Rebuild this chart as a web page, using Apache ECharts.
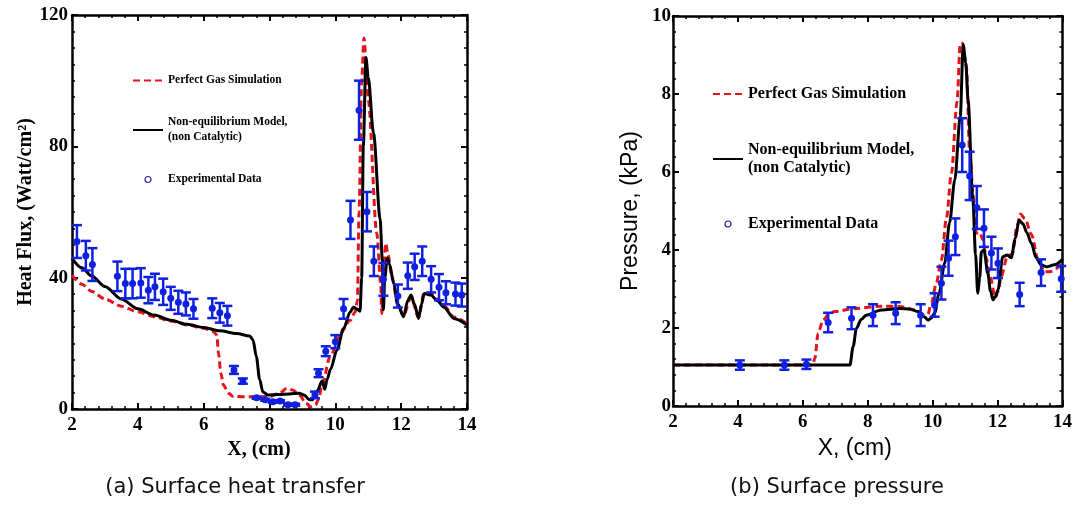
<!DOCTYPE html>
<html>
<head>
<meta charset="utf-8">
<script src="https://cdn.jsdelivr.net/npm/echarts@6/dist/echarts.min.js"></script>
<style>
  html, body { margin: 0; padding: 0; background: #ffffff; }
  #chart { width: 1075px; height: 506px; }
</style>
</head>
<body>
<div id="chart"></div>
<script>
// ---- Surface heat transfer, X (cm) vs heat flux (Watt/cm^2) ----
const heatPerfectGas = [
  [2.0, 40.8], [2.3, 38.0], [2.6, 35.8], [3.0, 33.5], [3.5, 31.3], [4.0, 29.6],
  [4.5, 28.1], [5.0, 26.8], [5.5, 25.6], [6.0, 24.6], [6.3, 23.6], [6.4, 22.5],
  [6.45, 17.0], [6.52, 11.0], [6.6, 7.3], [6.75, 4.8], [6.9, 3.8], [7.5, 3.7],
  [8.0, 3.8], [8.3, 4.8], [8.53, 6.3], [8.7, 5.8], [8.93, 4.0], [9.1, 1.8],
  [9.25, 0.7], [9.4, 1.2], [9.49, 3.0], [9.6, 7.5], [9.84, 15.9], [10.15, 23.0],
  [10.45, 27.0], [10.6, 29.5], [10.67, 33.0], [10.72, 60.0], [10.8, 100.0],
  [10.87, 113.0], [10.95, 104.0], [11.0, 94.0], [11.26, 53.5], [11.38, 38.0],
  [11.41, 29.1], [11.47, 42.0], [11.53, 50.5], [11.6, 47.0], [11.72, 40.3],
  [11.9, 31.5], [12.07, 28.5], [12.3, 34.0], [12.53, 28.0], [12.7, 35.5],
  [12.9, 35.0], [13.1, 33.5], [13.3, 31.5], [13.6, 28.0], [14.0, 26.0]
];
const heatNonEquilibrium = [
  [2.0, 45.9], [2.3, 43.0], [2.6, 40.5], [3.0, 37.3], [3.5, 33.5], [4.0, 30.5],
  [4.5, 28.6], [5.0, 27.0], [5.5, 25.8], [6.0, 24.8], [6.5, 23.8], [7.0, 23.0],
  [7.4, 22.2], [7.5, 21.0], [7.6, 16.0], [7.7, 9.0], [7.8, 5.2], [7.95, 4.3],
  [8.3, 4.4], [8.6, 4.6], [8.9, 4.8], [9.05, 4.3], [9.2, 2.9], [9.3, 2.8],
  [9.45, 5.5], [9.6, 8.5], [9.68, 6.0], [9.75, 9.0], [9.85, 12.0], [10.05, 18.0],
  [10.25, 24.5], [10.45, 29.5], [10.55, 31.0], [10.65, 30.5], [10.75, 29.8],
  [10.8, 40.0], [10.85, 80.0], [10.93, 107.0], [11.0, 101.0], [11.16, 84.0],
  [11.36, 58.0], [11.43, 45.0], [11.46, 30.2], [11.5, 40.0], [11.58, 46.0],
  [11.65, 44.0], [11.77, 38.3], [11.9, 32.0], [12.07, 28.1], [12.2, 33.0],
  [12.3, 34.7], [12.4, 32.0], [12.53, 27.6], [12.62, 32.0], [12.7, 35.2],
  [12.9, 34.7], [13.1, 33.0], [13.3, 31.0], [13.6, 27.6], [14.0, 25.6]
];
// [x, measured value, error half-width]
const heatExperimental = [
  [2.15, 51.0, 5.0], [2.42, 46.7, 4.5], [2.62, 44.0, 5.0], [3.38, 40.4, 4.5],
  [3.62, 38.2, 4.5], [3.84, 38.2, 4.5], [4.09, 38.4, 4.5], [4.32, 36.2, 4.0],
  [4.52, 37.2, 4.0], [4.77, 35.7, 4.0], [5.0, 33.7, 3.5], [5.23, 32.5, 3.5],
  [5.46, 32.0, 3.5], [5.69, 30.5, 3.0], [6.26, 30.7, 3.0], [6.49, 29.3, 3.0],
  [6.72, 28.4, 3.0], [6.92, 11.9, 1.2], [7.19, 8.5, 0.8], [7.61, 3.4, 0.3],
  [7.87, 2.8, 0.3], [8.1, 2.2, 0.3], [8.32, 2.4, 0.3], [8.56, 1.3, 0.3],
  [8.78, 1.3, 0.3], [9.38, 4.3, 1.0], [9.49, 10.9, 1.2], [9.71, 17.6, 1.5],
  [10.0, 20.5, 2.0], [10.25, 30.5, 3.0], [10.46, 57.6, 5.8], [10.72, 91.0, 9.0],
  [10.96, 60.1, 6.0], [11.17, 45.0, 4.5], [11.46, 39.5, 5.0], [11.9, 34.4, 3.5],
  [12.2, 40.6, 4.0], [12.41, 43.3, 4.0], [12.64, 45.0, 4.5], [12.91, 39.5, 4.0],
  [13.15, 37.1, 4.0], [13.36, 35.4, 3.5], [13.65, 35.0, 3.5], [13.84, 34.7, 3.5]
];

// ---- Surface pressure, X (cm) vs pressure (kPa) ----
const pressPerfectGas = [
  [2.0, 1.05], [6.3, 1.05], [6.37, 1.22], [6.47, 1.86], [6.62, 2.2], [6.8, 2.35],
  [6.98, 2.42], [7.6, 2.5], [8.42, 2.56], [9.0, 2.55], [9.45, 2.46], [9.75, 2.33],
  [9.85, 2.35], [9.96, 2.63], [10.1, 3.1], [10.27, 3.74], [10.42, 4.8],
  [10.58, 5.97], [10.75, 7.8], [10.85, 9.3], [10.92, 9.3], [11.04, 8.7],
  [11.14, 6.5], [11.25, 5.4], [11.34, 4.43], [11.45, 4.45], [11.55, 4.26],
  [11.65, 3.8], [11.75, 3.4], [11.93, 2.78], [12.02, 2.95], [12.11, 3.32],
  [12.3, 3.83], [12.45, 3.9], [12.6, 4.6], [12.7, 4.92], [12.85, 4.8],
  [13.04, 4.4], [13.25, 3.75], [13.45, 3.44], [13.65, 3.45], [14.0, 3.66]
];
const pressNonEquilibrium = [
  [2.0, 1.05], [7.45, 1.05], [7.55, 1.52], [7.65, 1.99], [7.8, 2.22], [7.95, 2.33],
  [8.42, 2.46], [9.0, 2.5], [9.3, 2.49], [9.55, 2.42], [9.75, 2.28], [9.86, 2.2],
  [9.95, 2.25], [10.06, 2.38], [10.2, 2.9], [10.37, 3.66], [10.52, 4.7],
  [10.68, 5.79], [10.85, 7.42], [10.94, 9.26], [11.02, 8.8], [11.09, 7.85],
  [11.24, 5.28], [11.32, 3.9], [11.39, 2.89], [11.45, 3.3], [11.5, 3.95],
  [11.58, 4.0], [11.7, 3.4], [11.78, 2.95], [11.86, 2.72], [11.93, 2.8],
  [12.01, 2.97], [12.16, 3.83], [12.3, 3.87], [12.42, 3.8], [12.55, 4.3],
  [12.66, 4.77], [12.78, 4.67], [12.9, 4.45], [13.04, 4.17], [13.19, 3.8],
  [13.34, 3.62], [13.5, 3.57], [13.75, 3.62], [14.0, 3.76]
];
const pressExperimental = [
  [4.06, 1.05, 0.12], [5.43, 1.05, 0.12], [6.11, 1.07, 0.12], [6.78, 2.14, 0.25],
  [7.5, 2.25, 0.28], [8.16, 2.33, 0.28], [8.86, 2.38, 0.28], [9.63, 2.33, 0.28],
  [10.06, 2.59, 0.3], [10.27, 3.15, 0.42], [10.49, 3.79, 0.45], [10.7, 4.34, 0.47],
  [10.91, 6.69, 0.69], [11.14, 5.9, 0.62], [11.36, 5.09, 0.55], [11.58, 4.56, 0.48],
  [11.81, 3.92, 0.42], [12.01, 3.66, 0.38], [12.68, 2.86, 0.3], [13.34, 3.42, 0.34],
  [13.96, 3.26, 0.33]
];

const NAME_PG = 'Perfect Gas Simulation';
const NAME_NE = 'Non-equilibrium Model,\n(non Catalytic)';
const NAME_EXP = 'Experimental Data';

const RED = '#e3141c';
const BLUE = '#1020e0';
const SERIF = '"Liberation Serif", "Times New Roman", serif';
const SANS = '"Liberation Sans", Arial, sans-serif';

const tickLabelStyle = { fontFamily: SERIF, fontWeight: 'bold', fontSize: 19, color: '#000' };

function frameAxis(gridIndex, position, min, max, interval, minorSplit, extra) {
  return Object.assign({
    type: 'value',
    gridIndex: gridIndex,
    position: position,
    min: min,
    max: max,
    interval: interval,
    splitLine: { show: false },
    axisLine: { show: true, onZero: false, lineStyle: { color: '#000', width: 2.5 } },
    axisTick: { show: true, inside: true, length: 6, lineStyle: { color: '#000', width: 2 } },
    minorTick: { show: true, splitNumber: minorSplit, length: 3, lineStyle: { color: '#000', width: 1.5 } },
    axisLabel: { show: false }
  }, extra || {});
}

function errorBars(data, xi, yi) {
  return {
    type: 'custom',
    xAxisIndex: xi,
    yAxisIndex: yi,
    data: data,
    encode: { x: 0, y: 1 },
    z: 4,
    silent: true,
    renderItem: function (params, api) {
      const x = api.value(0), y = api.value(1), e = api.value(2);
      const top = api.coord([x, y + e]);
      const bot = api.coord([x, y - e]);
      const hw = 5;
      const st = { stroke: BLUE, lineWidth: 2.5 };
      return {
        type: 'group',
        children: [
          { type: 'line', shape: { x1: top[0], y1: top[1], x2: bot[0], y2: bot[1] }, style: st },
          { type: 'line', shape: { x1: top[0] - hw, y1: top[1], x2: top[0] + hw, y2: top[1] }, style: st },
          { type: 'line', shape: { x1: bot[0] - hw, y1: bot[1], x2: bot[0] + hw, y2: bot[1] }, style: st }
        ]
      };
    }
  };
}

function lineSeries(name, data, xi, yi, color, dashed) {
  return {
    name: name,
    type: 'line',
    xAxisIndex: xi,
    yAxisIndex: yi,
    data: data,
    symbol: 'none',
    smooth: 0.3,
    smoothMonotone: 'x',
    z: dashed ? 2 : 3,
    lineStyle: { color: color, width: 3, type: dashed ? [7, 4] : 'solid' },
    itemStyle: { color: color }
  };
}

function dots(data, xi, yi) {
  return {
    name: NAME_EXP,
    type: 'scatter',
    xAxisIndex: xi,
    yAxisIndex: yi,
    data: data.map(function (d) { return [d[0], d[1]]; }),
    symbol: 'circle',
    symbolSize: 7,
    z: 5,
    itemStyle: { color: BLUE, opacity: 1 }
  };
}

// line entries show only the stroke sample, the data entry a small open circle
function legendData() {
  const noMarker = { color: 'rgba(0,0,0,0)', borderWidth: 0, opacity: 0 };
  return [
    { name: NAME_PG, itemStyle: noMarker },
    { name: NAME_NE, itemStyle: noMarker },
    { name: NAME_EXP, icon: 'circle', itemStyle: { color: '#ffffff', borderColor: '#20209a', borderWidth: 1.2 } }
  ];
}

const chart = echarts.init(document.getElementById('chart'), null, { renderer: 'canvas' });

chart.setOption({
  backgroundColor: '#ffffff',
  animation: false,
  grid: [
    { left: 72, top: 15, width: 395, height: 394 },
    { left: 673, top: 16, width: 390, height: 390 }
  ],
  legend: [
    {
      left: 127, top: 68, orient: 'vertical',
      itemWidth: 30, itemHeight: 6, itemGap: 27,
      selectedMode: false,
      textStyle: { fontFamily: SERIF, fontWeight: 'bold', fontSize: 11.5, lineHeight: 15, color: '#000' },
      data: legendData()
    },
    {
      left: 707, top: 80, orient: 'vertical',
      itemWidth: 30, itemHeight: 6, itemGap: 38,
      selectedMode: false,
      textStyle: { fontFamily: SERIF, fontWeight: 'bold', fontSize: 16, lineHeight: 18, color: '#000' },
      data: legendData()
    }
  ],
  xAxis: [
    frameAxis(0, 'bottom', 2, 14, 2, 5, {
      axisLabel: Object.assign({ show: true, margin: 7 }, tickLabelStyle),
      name: 'X, (cm)', nameLocation: 'middle', nameGap: 26,
      nameTextStyle: { fontFamily: SERIF, fontWeight: 'bold', fontSize: 20, color: '#000', padding: [0, 21, 0, 0] }
    }),
    frameAxis(0, 'top', 2, 14, 2, 5),
    frameAxis(1, 'bottom', 2, 14, 2, 5, {
      axisLabel: Object.assign({ show: true, margin: 7 }, tickLabelStyle),
      name: 'X, (cm)', nameLocation: 'middle', nameGap: 25,
      nameTextStyle: { fontFamily: SANS, fontSize: 23, color: '#000', padding: [0, 26, 0, 0] }
    }),
    frameAxis(1, 'top', 2, 14, 2, 5)
  ],
  yAxis: [
    frameAxis(0, 'left', 0, 120, 40, 8, {
      axisLabel: Object.assign({ show: true, margin: 4 }, tickLabelStyle),
      name: 'Heat Flux, (Watt/cm²)', nameLocation: 'middle', nameGap: 34,
      nameTextStyle: { fontFamily: SERIF, fontWeight: 'bold', fontSize: 20, color: '#000' }
    }),
    frameAxis(0, 'right', 0, 120, 40, 8),
    frameAxis(1, 'left', 0, 10, 2, 5, {
      axisLabel: Object.assign({ show: true, margin: 2 }, tickLabelStyle),
      name: 'Pressure, (kPa)', nameLocation: 'middle', nameGap: 31,
      nameTextStyle: { fontFamily: SANS, fontSize: 23, color: '#000' }
    }),
    frameAxis(1, 'right', 0, 10, 2, 5)
  ],
  series: [
    lineSeries(NAME_PG, heatPerfectGas, 0, 0, RED, true),
    lineSeries(NAME_NE, heatNonEquilibrium, 0, 0, '#000000', false),
    errorBars(heatExperimental, 0, 0),
    dots(heatExperimental, 0, 0),
    lineSeries(NAME_PG, pressPerfectGas, 2, 2, RED, true),
    lineSeries(NAME_NE, pressNonEquilibrium, 2, 2, '#000000', false),
    errorBars(pressExperimental, 2, 2),
    dots(pressExperimental, 2, 2)
  ],
  graphic: [
    {
      type: 'text', x: 235, y: 488,
      style: { text: '(a) Surface heat transfer', fontFamily: '"DejaVu Sans", sans-serif', fontSize: 21, fill: '#111', align: 'center', verticalAlign: 'middle' }
    },
    {
      type: 'text', x: 837, y: 488,
      style: { text: '(b) Surface pressure', fontFamily: '"DejaVu Sans", sans-serif', fontSize: 21, fill: '#111', align: 'center', verticalAlign: 'middle' }
    }
  ]
});
</script>
</body>
</html>
